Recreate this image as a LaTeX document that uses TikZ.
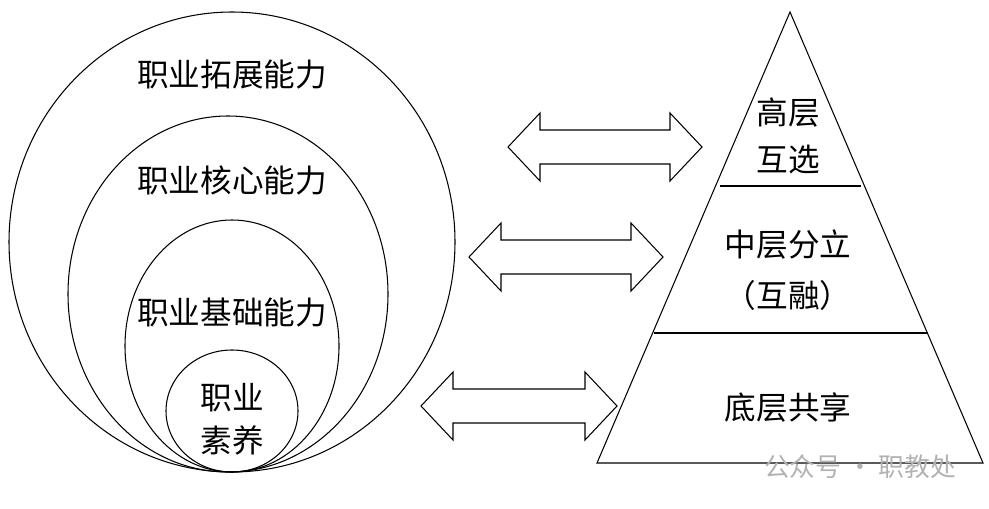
\documentclass[tikz,border=0pt]{standalone}
\usepackage{fontspec}
\newfontfamily\cjk{Noto Sans CJK SC}
\usepackage{tikz}

% double arrow between two x positions at height y
\newcommand{\dblarrow}[3]{%
  \draw (#1,#3) -- (#1+32,#3-34) -- (#1+32,#3-17) -- (#2-32,#3-17) -- (#2-32,#3-34)
    -- (#2,#3) -- (#2-32,#3+34) -- (#2-32,#3+17) -- (#1+32,#3+17) -- (#1+32,#3+34) -- cycle;}

\begin{document}
\begin{tikzpicture}[x=0.03cm, y=-0.03cm, line width=0.9pt,
    lbl/.style={font=\cjk\fontsize{27}{30}\selectfont, inner sep=0pt}]
      \useasboundingbox (0,0) rectangle (989,509);

      \draw (232,242) ellipse (223 and 230);
      \draw (228,294) ellipse (160 and 178);
      \draw (232,346) ellipse (107 and 126);
      \draw (232,411) ellipse (66 and 61);

      \node[lbl](expand) at (232,75){职业拓展能力};
      \node[lbl](core) at (232,180){职业核心能力};
      \node[lbl](base) at (232,313){职业基础能力};
      \node[lbl](qual1) at (232,398){职业};
      \node[lbl](qual2) at (232,440){素养};

      \draw (790,12) -- (983,463) -- (597,463) -- cycle;
      \draw [line width=1.8pt] (720,186) -- (861,186);
      \draw (654,333) -- (928,333);

      \node[lbl](top1) at (788,113){高层};
      \node[lbl](top2) at (788,160){互选};
      \node[lbl](mid1) at (788,245){中层分立};
      \node[lbl](mid2) at (788,295){（互融）};
      \node[lbl](low) at (788,408){底层共享};

      \dblarrow{508}{702}{147}
      \dblarrow{469}{663}{257}
      \dblarrow{421}{617}{406}

      \node[lbl, font=\cjk\fontsize{22}{24}\selectfont, text=gray!60](mark) at (860,467){公众号 · 职教处};
    \end{tikzpicture}
\end{document}
